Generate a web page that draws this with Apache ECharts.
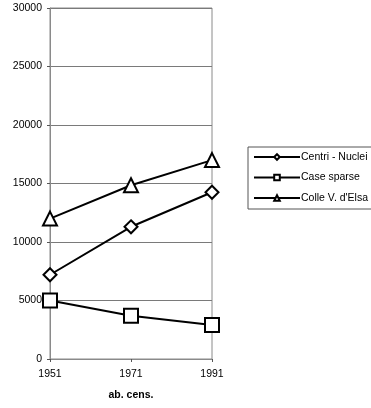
<!DOCTYPE html>
<html><head><meta charset="utf-8">
<script src="https://cdn.jsdelivr.net/npm/echarts@6/dist/echarts.min.js"></script>
<style>html,body{margin:0;padding:0;background:#fff}#c{width:371px;height:408px}</style>
</head><body><div id="c"></div>
<script>
var years = ['1951', '1971', '1991'];
var centriNuclei = [7200, 11300, 14250];
var caseSparse = [5000, 3700, 2900];
var colleVElsa = [12000, 14850, 17000];
var yTicks = [0, 5000, 10000, 15000, 20000, 25000, 30000];
var xTitle = 'ab. cens.';
var seriesNames = ['Centri - Nuclei', 'Case sparse', "Colle V. d'Elsa"];

var font = 'Liberation Sans, Arial, sans-serif';
var chart = echarts.init(document.getElementById('c'));
function ser(name, data, sym, size) {
  return {
    name: name, type: 'line', data: data, symbol: sym, symbolSize: size,
    lineStyle: {color: '#000', width: 2},
    itemStyle: {color: '#fff', borderColor: '#000', borderWidth: 2},
    emphasis: {disabled: true}, animation: false
  };
}
chart.setOption({
  animation: false,
  grid: {left: 50, right: 159, top: 8, bottom: 49, show: true, borderColor: '#8a8a8a', borderWidth: 1},
  xAxis: {
    type: 'category', data: years, boundaryGap: false,
    name: xTitle, nameLocation: 'middle', nameGap: 31,
    nameTextStyle: {fontFamily: font, fontSize: 10.5, fontWeight: 'bold', color: '#000'},
    axisLine: {lineStyle: {color: '#8a8a8a'}},
    axisTick: {show: true, length: 3, lineStyle: {color: '#555'}},
    axisLabel: {fontFamily: font, fontSize: 10.5, color: '#000', margin: 10},
    splitLine: {show: false}
  },
  yAxis: {
    type: 'value', min: yTicks[0], max: yTicks[yTicks.length - 1], interval: 5000,
    axisLine: {show: true, lineStyle: {color: '#8a8a8a'}},
    axisTick: {show: true, length: 3, lineStyle: {color: '#555'}},
    axisLabel: {fontFamily: font, fontSize: 10.5, color: '#000', margin: 8,
      formatter: function (v) { return String(v); }},
    splitLine: {show: true, lineStyle: {color: '#7a7a7a', width: 1}}
  },
  legend: {
    orient: 'vertical', left: 248, top: 147,
    itemWidth: 46, itemHeight: 7, itemGap: 8.5,
    padding: [4, 30, 5, 5],
    borderColor: '#555', borderWidth: 1,
    textStyle: {fontFamily: font, fontSize: 10.5, lineHeight: 12, color: '#000', padding: [0, 0, 0, -4]},
    data: seriesNames
  },
  series: [
    ser(seriesNames[0], centriNuclei, 'diamond', 13),
    ser(seriesNames[1], caseSparse, 'rect', 14),
    ser(seriesNames[2], colleVElsa, 'triangle', 14)
  ]
});
</script></body></html>
